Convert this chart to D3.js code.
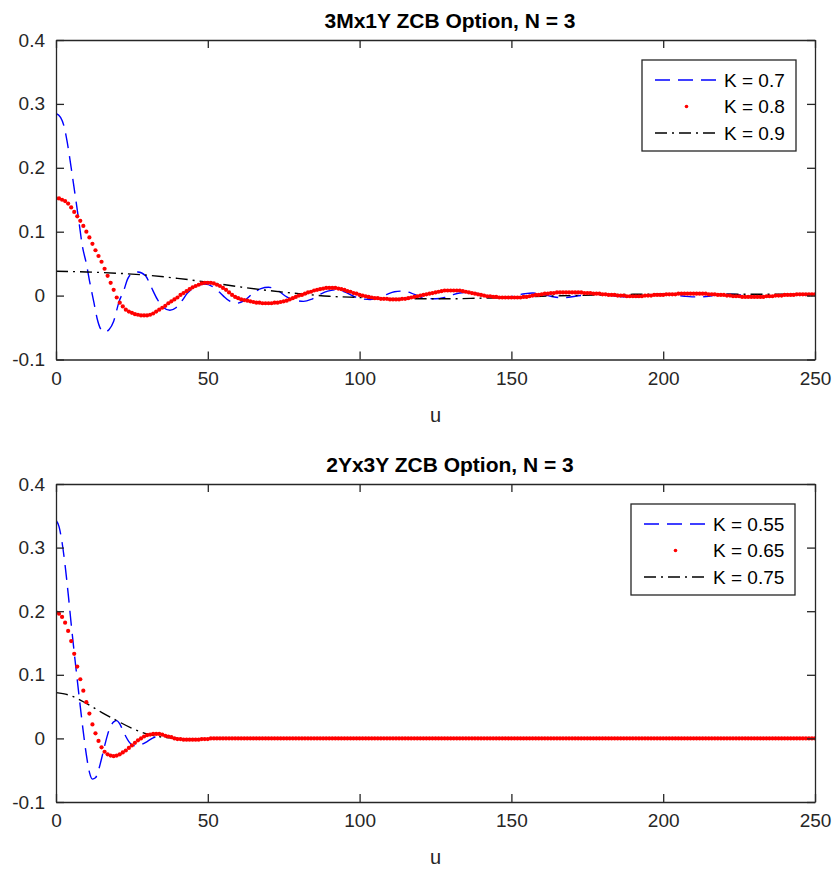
<!DOCTYPE html>
<html>
<head>
<meta charset="utf-8">
<script src="https://cdn.jsdelivr.net/npm/d3@7"></script>
<style>
  body { margin: 0; background: #fff; }
  svg { display: block; font-family: "Liberation Sans", Arial, Helvetica, sans-serif; }
</style>
</head>
<body>
<div id="chart"></div>
<script>
// ---- data ----
var xTicks = [0, 50, 100, 150, 200, 250];
var yTicks = [-0.1, 0, 0.1, 0.2, 0.3, 0.4];
var yTickLabels = ["-0.1", "0", "0.1", "0.2", "0.3", "0.4"];

var topTitle = "3Mx1Y ZCB Option, N = 3";
var topLabels = ["K = 0.7", "K = 0.8", "K = 0.9"];
var bottomTitle = "2Yx3Y ZCB Option, N = 3";
var bottomLabels = ["K = 0.55", "K = 0.65", "K = 0.75"];

// top panel, K = 0.7 (dashed) : [u, value]
var topBlue = [[0,0.285],[1.5,0.279],[2.6,0.266],[3.7,0.240],[5.4,0.187],[6.5,0.151],[7.6,0.114],[8.7,0.077],
  [10,0.050],[11,0.024],[12.5,-0.011],[13.5,-0.035],[14.7,-0.052],[16,-0.057],[17.5,-0.053],[19,-0.040],
  [20.8,-0.009],[22.4,0.009],[23.5,0.025],[25.5,0.036],[27,0.037],[29.5,0.031],[31.2,0.015],[33.4,-0.006],
  [35,-0.017],[37.5,-0.023],[39.5,-0.019],[41.5,-0.008],[43.3,0.004],[46,0.014],[49,0.018],[52,0.013],
  [55,0.000],[57,-0.008],[59.5,-0.012],[62,-0.008],[65,0.004],[67.5,0.011],[70,0.013],[73,0.008],
  [76,-0.002],[78.5,-0.007],[81.5,-0.009],[84,-0.006],[87,0.002],[89.5,0.007],[92.5,0.009],[95,0.006],
  [98,-0.001],[100.5,-0.005],[103.5,-0.006],[106,-0.004],[109,0.002],[111.5,0.006],[114,0.007],[117,0.004],
  [119.5,-0.001],[122,-0.004],[125,-0.005],[128,-0.003],[130.5,0.001],[133,0.004],[136,0.005],[139,0.003],
  [141.5,-0.001],[144,-0.003],[146.5,-0.004],[149.5,-0.002],[152,0.001],[154.5,0.003],[157,0.004],[160,0.002],
  [163,-0.001],[165.5,-0.003],[168,-0.003],[171,-0.001],[174,0.001],[176.5,0.003],[179,0.003],[182,0.001],
  [185,-0.001],[187.5,-0.002],[190,-0.003],[193,-0.001],[196,0.001],[198.5,0.002],[201,0.003],[204,0.001],
  [207,-0.001],[209.5,-0.002],[212,-0.002],[215,-0.001],[217.5,0.001],[220,0.002],[222.5,0.002],[225.5,0.001],
  [228.5,-0.001],[231,-0.002],[233.5,-0.002],[236.5,-0.001],[239,0.001],[241.5,0.002],[244,0.002],[247,0.001],
  [250,-0.001]];

// top panel, K = 0.8 (dots), one value per u = 0..250
var topRed = [
  0.152,0.152,0.150,0.148,0.144,0.138,0.131,0.124,0.117,0.109,
  0.100,0.091,0.081,0.071,0.062,0.053,0.042,0.031,0.020,0.009,
  -0.003,-0.011,-0.017,-0.022,-0.025,-0.027,-0.029,-0.030,-0.031,-0.031,
  -0.031,-0.030,-0.028,-0.025,-0.022,-0.019,-0.016,-0.012,-0.009,-0.006,
  -0.003,0.001,0.004,0.007,0.010,0.013,0.015,0.017,0.019,0.020,
  0.020,0.020,0.019,0.017,0.015,0.012,0.009,0.005,0.001,-0.002,
  -0.004,-0.006,-0.007,-0.008,-0.009,-0.010,-0.011,-0.011,-0.012,-0.012,
  -0.012,-0.012,-0.011,-0.011,-0.010,-0.009,-0.008,-0.006,-0.004,-0.002,
  0.000,0.001,0.003,0.005,0.006,0.008,0.009,0.010,0.011,0.012,
  0.012,0.012,0.012,0.011,0.010,0.009,0.007,0.006,0.004,0.003,
  0.001,0.000,-0.001,-0.002,-0.003,-0.004,-0.004,-0.005,-0.005,-0.005,
  -0.006,-0.006,-0.006,-0.006,-0.005,-0.005,-0.004,-0.003,-0.002,-0.001,
  0.000,0.001,0.002,0.003,0.004,0.005,0.006,0.007,0.008,0.008,
  0.008,0.008,0.008,0.008,0.007,0.006,0.005,0.004,0.003,0.002,
  0.001,0.000,-0.001,-0.001,-0.002,-0.002,-0.003,-0.003,-0.003,-0.003,
  -0.003,-0.003,-0.003,-0.003,-0.002,-0.002,-0.001,0.000,0.001,0.001,
  0.002,0.003,0.003,0.004,0.004,0.005,0.005,0.005,0.005,0.005,
  0.005,0.005,0.005,0.005,0.004,0.004,0.004,0.003,0.003,0.003,
  0.002,0.002,0.001,0.001,0.001,0.000,0.000,0.000,-0.001,-0.001,
  -0.001,-0.001,-0.001,-0.001,0.000,0.000,0.000,0.001,0.001,0.001,
  0.001,0.002,0.002,0.002,0.002,0.003,0.003,0.003,0.003,0.003,
  0.003,0.003,0.003,0.003,0.003,0.002,0.002,0.002,0.001,0.001,
  0.001,0.000,0.000,-0.001,-0.001,-0.001,-0.002,-0.002,-0.002,-0.002,
  -0.002,-0.002,-0.002,-0.002,-0.001,-0.001,-0.001,0.000,0.000,0.000,
  0.001,0.001,0.001,0.001,0.002,0.002,0.002,0.002,0.002,0.002,
  0.002];

// top panel, K = 0.9 (dash-dot)
var topBlack = [[0,0.038],[10,0.037],[20,0.035],[30,0.032],[40,0.027],[50,0.021],[60,0.014],[70,0.008],
  [80,0.003],[90,-0.001],[100,-0.003],[110,-0.005],[120,-0.005],[130,-0.005],[140,-0.004],[150,-0.003],
  [160,-0.001],[170,0.000],[180,0.001],[190,0.002],[200,0.002],[210,0.002],[220,0.002],[230,0.002],
  [240,0.002],[250,0.002]];

// bottom panel, K = 0.55 (dashed)
var bottomBlue = [[0,0.343],[1,0.333],[2,0.308],[3,0.272],[4,0.228],[5,0.180],[6,0.135],[7,0.092],
  [8,0.050],[9,0.010],[10,-0.026],[11,-0.053],[12,-0.064],[13,-0.062],[14,-0.050],[15,-0.032],
  [16,-0.012],[17,0.006],[18,0.019],[19,0.026],[20,0.028],[21,0.023],[22,0.013],[23,0.003],
  [24,-0.005],[25,-0.010],[26.5,-0.012],[28,-0.010],[30,-0.005],[32,0.001],[34,0.004],[36,0.004],
  [38,0.002],[40,0.000],[43,-0.001],[47,-0.001],[52,0.000],[60,0.000],[100,0.000],[150,0.000],
  [200,0.000],[250,0.000]];

// bottom panel, K = 0.65 (dots), one value per u = 0..250
var bottomRed = [
  0.198,0.196,0.191,0.182,0.169,0.153,0.133,0.113,0.093,0.075,
  0.057,0.039,0.022,0.008,-0.004,-0.014,-0.021,-0.025,-0.027,-0.028,
  -0.027,-0.025,-0.022,-0.019,-0.015,-0.011,-0.007,-0.003,0.000,0.003,
  0.005,0.006,0.007,0.007,0.007,0.006,0.004,0.003,0.002,0.000,
  -0.001,-0.001,-0.002,-0.002,-0.002,-0.002,-0.002,-0.002,-0.001,-0.001,
  -0.001,0,0,0,0,0,0,0,0,0,
  0,0,0,0,0,0,0,0,0,0, 0,0,0,0,0,0,0,0,0,0,
  0,0,0,0,0,0,0,0,0,0, 0,0,0,0,0,0,0,0,0,0,
  0,0,0,0,0,0,0,0,0,0, 0,0,0,0,0,0,0,0,0,0,
  0,0,0,0,0,0,0,0,0,0, 0,0,0,0,0,0,0,0,0,0,
  0,0,0,0,0,0,0,0,0,0, 0,0,0,0,0,0,0,0,0,0,
  0,0,0,0,0,0,0,0,0,0, 0,0,0,0,0,0,0,0,0,0,
  0,0,0,0,0,0,0,0,0,0, 0,0,0,0,0,0,0,0,0,0,
  0,0,0,0,0,0,0,0,0,0, 0,0,0,0,0,0,0,0,0,0,
  0,0,0,0,0,0,0,0,0,0, 0,0,0,0,0,0,0,0,0,0,
  0,0,0,0,0,0,0,0,0,0,
  0];

// bottom panel, K = 0.75 (dash-dot)
var bottomBlack = [[0,0.072],[5,0.067],[10,0.055],[15,0.041],[20,0.028],[25,0.016],[30,0.007],[35,0.002],
  [40,0.000],[45,-0.001],[50,-0.001],[55,0.000],[60,0.000],[100,0.000],[150,0.000],[200,0.000],[250,0.000]];

// ---- drawing ----
var W = 834, H = 869;
var axisColor = "#262626";

var svg = d3.select("#chart").append("svg")
  .attr("width", W)
  .attr("height", H);

function drawPanel(p) {
  var x = d3.scaleLinear().domain([0, 250]).range([p.left, p.right]);
  var y = d3.scaleLinear().domain([-0.1, 0.4]).range([p.bottom, p.top]);
  var g = svg.append("g");

  // clip so lines stay inside the box
  var clipId = "clip" + p.id;
  g.append("clipPath").attr("id", clipId)
    .append("rect")
    .attr("x", p.left).attr("y", p.top)
    .attr("width", p.right - p.left).attr("height", p.bottom - p.top);

  var plot = g.append("g").attr("clip-path", "url(#" + clipId + ")");

  var line = d3.line()
    .x(function(d) { return x(d[0]); })
    .y(function(d) { return y(d[1]); })
    .curve(d3.curveMonotoneX);

  // dashed blue
  plot.append("path")
    .datum(p.blue)
    .attr("d", line)
    .attr("fill", "none")
    .attr("stroke", "#0000ff")
    .attr("stroke-width", 1.4)
    .attr("stroke-dasharray", "15,8");

  // dash-dot black
  plot.append("path")
    .datum(p.black)
    .attr("d", line)
    .attr("fill", "none")
    .attr("stroke", "#000000")
    .attr("stroke-width", 1.4)
    .attr("stroke-dasharray", "12,5,2,5");

  // red dots
  plot.selectAll("circle.dot")
    .data(p.red)
    .enter()
    .append("circle")
    .attr("class", "dot")
    .attr("cx", function(d, i) { return x(i); })
    .attr("cy", function(d) { return y(d); })
    .attr("r", 2.1)
    .style("fill", "#ff0000");

  // axes (MATLAB style box, ticks inward)
  var ax = g.append("g")
    .attr("transform", "translate(0," + p.bottom + ")")
    .call(d3.axisBottom(x).tickValues(xTicks).tickSizeInner(-8).tickSizeOuter(0).tickPadding(12)
      .tickFormat(d3.format("d")));
  var axT = g.append("g")
    .attr("transform", "translate(0," + p.top + ")")
    .call(d3.axisTop(x).tickValues(xTicks).tickSizeInner(-8).tickSizeOuter(0).tickFormat(""));
  var ay = g.append("g")
    .attr("transform", "translate(" + p.left + ",0)")
    .call(d3.axisLeft(y).tickValues(yTicks).tickSizeInner(-8).tickSizeOuter(0).tickPadding(11)
      .tickFormat(function(d, i) { return yTickLabels[i]; }));
  var ayR = g.append("g")
    .attr("transform", "translate(" + p.right + ",0)")
    .call(d3.axisRight(y).tickValues(yTicks).tickSizeInner(-8).tickSizeOuter(0).tickFormat(""));

  [ax, axT, ay, ayR].forEach(function(a) {
    a.select(".domain").attr("stroke", axisColor).attr("stroke-width", 1.3);
    a.selectAll(".tick line").attr("stroke", axisColor).attr("stroke-width", 1.3);
    a.selectAll(".tick text")
      .attr("fill", axisColor)
      .style("font-size", "19px")
      .style("font-family", "'Liberation Sans', Arial, sans-serif");
  });

  // title (sits a bit right of the axes centre in the reference)
  g.append("text")
    .attr("x", 450)
    .attr("y", p.top - 12)
    .attr("text-anchor", "middle")
    .style("font-size", "21px")
    .style("font-weight", "bold")
    .attr("fill", "#000")
    .text(p.title);

  // x label
  g.append("text")
    .attr("x", (p.left + p.right) / 2)
    .attr("y", p.bottom + 62)
    .attr("text-anchor", "middle")
    .style("font-size", "20px")
    .attr("fill", axisColor)
    .text("u");

  // legend
  var lg = g.append("g");
  lg.append("rect")
    .attr("x", p.legX).attr("y", p.legY)
    .attr("width", p.legW).attr("height", 91)
    .attr("fill", "#fff")
    .attr("stroke", axisColor)
    .attr("stroke-width", 1.3);

  var styles = [
    { color: "#0000ff", dash: "15,8", type: "line" },
    { color: "#ff0000", type: "dot" },
    { color: "#000000", dash: "12,5,2,5", type: "line" }
  ];
  styles.forEach(function(s, i) {
    var cy = p.legY + 20 + i * 26.5;
    var x0 = p.legX + 13, x1 = p.legX + 76;
    if (s.type === "line") {
      lg.append("line")
        .attr("x1", x0).attr("x2", x1)
        .attr("y1", cy).attr("y2", cy)
        .attr("stroke", s.color)
        .attr("stroke-width", 1.4)
        .attr("stroke-dasharray", s.dash);
    } else {
      lg.append("circle")
        .attr("cx", (x0 + x1) / 2).attr("cy", cy)
        .attr("r", 1.8)
        .style("fill", s.color);
    }
    lg.append("text")
      .attr("x", x1 + 6)
      .attr("y", cy)
      .attr("dy", "0.35em")
      .style("font-size", "19px")
      .attr("fill", "#000")
      .text(p.labels[i]);
  });
}

drawPanel({
  id: "top", left: 56, right: 815, top: 40, bottom: 359.5,
  title: topTitle, labels: topLabels,
  blue: topBlue, red: topRed, black: topBlack,
  legX: 642, legY: 60, legW: 154
});

drawPanel({
  id: "bottom", left: 56, right: 815, top: 484, bottom: 802,
  title: bottomTitle, labels: bottomLabels,
  blue: bottomBlue, red: bottomRed, black: bottomBlack,
  legX: 631, legY: 504, legW: 164
});
</script>
</body>
</html>
